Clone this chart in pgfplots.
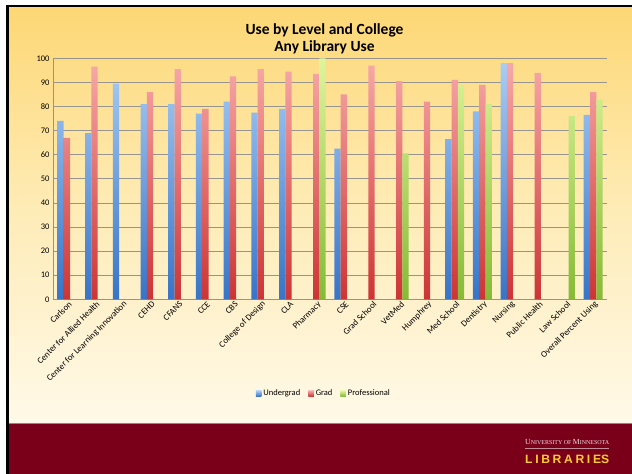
\documentclass[border=0pt]{standalone}
\usepackage{fontspec}
\setmainfont{Carlito}
\newfontfamily\logoserif{Liberation Serif}
\newfontfamily\logosans[LetterSpace=22]{Liberation Sans Bold}
\usepackage{graphicx}
\usepackage{pgfplots}
\pgfplotsset{compat=1.18}

\definecolor{slidetop}{RGB}{253,215,116}
\definecolor{slidemid}{RGB}{254,236,184}
\definecolor{slidebot}{RGB}{255,249,232}
\definecolor{umnmaroon}{RGB}{122,0,25}
\definecolor{umngold}{RGB}{255,204,51}
\definecolor{gridgray}{RGB}{150,148,140}
\definecolor{ugtop}{RGB}{168,204,245}
\definecolor{ugbot}{RGB}{55,116,200}
\definecolor{grtop}{RGB}{247,168,168}
\definecolor{grbot}{RGB}{205,52,52}
\definecolor{prtop}{RGB}{222,245,156}
\definecolor{prbot}{RGB}{134,186,54}

\begin{document}
\begin{tikzpicture}[x=1pt,y=1pt]
\useasboundingbox (0pt,0pt) rectangle (632pt,474pt);
% slide background
\fill[white] (0pt,0pt) rectangle (632pt,474pt);
\shade[top color=slidetop, bottom color=slidebot, middle color=slidemid] (7pt,51pt) rectangle (632pt,468pt);
\fill[umnmaroon] (7pt,0pt) rectangle (632pt,51pt);
\draw[umnmaroon!55!white, line width=0.8pt] (7pt,51pt) -- (632pt,51pt);
% frame
\fill[black] (6pt,0pt) rectangle (8.5pt,469pt);
\fill[black] (6pt,466.5pt) rectangle (632pt,469pt);

% title
\node[font=\fontsize{15.5}{17.4}\selectfont\bfseries, align=center] at (324.5pt,435pt)
  {Use by Level and College\\Any Library Use};

% logo
\node[anchor=west, inner sep=0pt, text=white!88!umnmaroon] at (525pt,32.3pt)
  {\resizebox{84pt}{!}{\logoserif\fontsize{7}{8}\selectfont U\fontsize{5.4}{6}\selectfont NIVERSITY OF \fontsize{7}{8}\selectfont M\fontsize{5.4}{6}\selectfont INNESOTA}};
\draw[umnmaroon!45!white, line width=0.6pt] (525pt,25.7pt) -- (609pt,25.7pt);
\node[anchor=west, inner sep=0pt, text=umngold] at (525pt,14.7pt)
  {\resizebox{84pt}{!}{\logosans\fontsize{11.5}{12}\selectfont LIBRARIE\addfontfeatures{LetterSpace=0}S}};

\begin{axis}[
  at={(53pt,174.7pt)}, anchor=south west,
  scale only axis, width=554pt, height=241pt,
  xmin=-0.5, xmax=19.5, ymin=0, ymax=100,
  ybar=0pt, bar width=6.3pt,
  axis x line*=bottom, axis y line*=left,
  axis line style={gridgray, line width=0.7pt},
  ymajorgrids, major grid style={gridgray, line width=0.7pt},
  major tick length=0pt,
  ytick={0,10,...,100},
  xtick={0,...,19},
  xticklabels={Carlson,Center for Allied Health,Center for Learning Innovation,CEHD,CFANS,CCE,CBS,College of Design,CLA,Pharmacy,CSE,Grad School,VetMed,Humphrey,Med School,Dentistry,Nursing,Public Health,Law School,Overall Percent Using},
  xticklabel style={rotate=45, anchor=east, font=\fontsize{8.8}{10}\selectfont, inner sep=1pt, yshift=-5pt, xshift=1pt},
  yticklabel style={font=\fontsize{8.5}{10}\selectfont},
  /pgf/number format/assume math mode=true,
  legend columns=3,
  legend style={at={(0.489,-0.392)}, anchor=center, draw=none, fill=none,
    font=\fontsize{8.5}{10}\selectfont, inner sep=0pt,
    /tikz/every even column/.append style={column sep=6pt}},
  legend image code/.code={\fill[#1] (0pt,-2.5pt) rectangle (5.5pt,3pt);},
]
\addplot[draw=none, top color=ugtop, bottom color=ugbot] coordinates {
  (0,74) (1,69) (2,89.5) (3,81) (4,81) (5,77) (6,82) (7,77.5) (8,79)
  (10,62.5) (14,66.5) (15,78) (16,98) (19,76.5)};
\addlegendentry{Undergrad}
\addplot[draw=none, top color=grtop, bottom color=grbot] coordinates {
  (0,67) (1,96.5) (3,86) (4,95.5) (5,79) (6,92.5) (7,95.5) (8,94.5) (9,93.5)
  (10,85) (11,97) (12,90.5) (13,82) (14,91) (15,89) (16,98) (17,94) (19,86)};
\addlegendentry{Grad}
\addplot[draw=none, top color=prtop, bottom color=prbot] coordinates {
  (9,100) (12,60.5) (14,89) (15,81) (18,76) (19,83)};
\addlegendentry{Professional}
\end{axis}
\end{tikzpicture}
\end{document}
